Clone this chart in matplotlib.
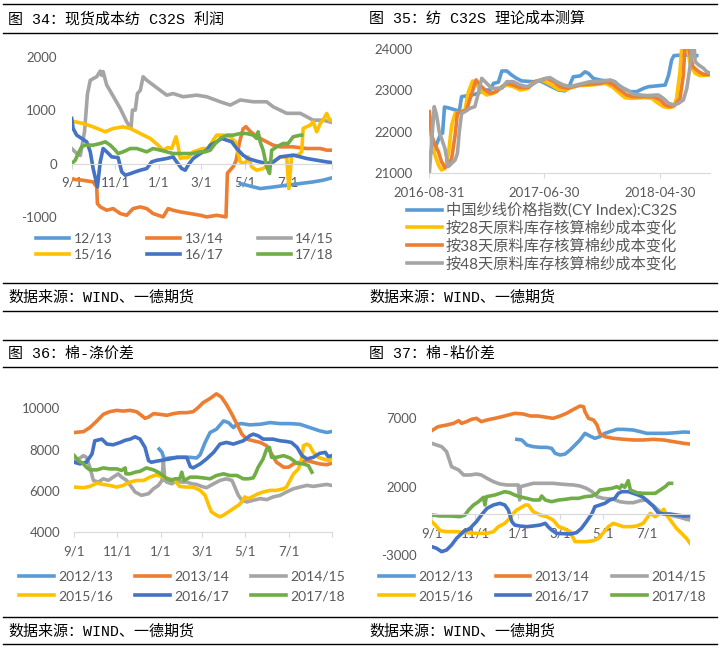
import matplotlib
matplotlib.use('Agg')
import matplotlib.pyplot as plt
from matplotlib.lines import Line2D
import pandas as pd

W, H = 720, 649

C_LBLUE = '#5B9BD5'
C_ORANGE = '#ED7D31'
C_GRAY = '#A5A5A5'
C_YELLOW = '#FFC000'
C_BLUE = '#4472C4'
C_GREEN = '#70AD47'
TXT = '#595959'
AXC = '#D9D9D9'

# ---------- season x axis (days after 9/1) ----------
month_ticks = [0, 61, 122, 181, 242, 303, 364]
month_labels = ['9/1', '11/1', '1/1', '3/1', '5/1', '7/1', '']

# ---------- chart 34: spot cost C32S profit ----------
profit_labels = ['12/13', '13/14', '14/15', '15/16', '16/17', '17/18']
profit_1213 = [(236, -375), (245, -406), (254, -437), (264, -469), (282, -440), (301, -406),
               (320, -375), (338, -344), (352, -312), (364, -269)]
profit_1314 = [(0, -294), (14, -310), (30, -344), (35, -437), (36, -750), (40, -812), (49, -875),
               (58, -844), (68, -937), (77, -969), (86, -844), (96, -812), (105, -844), (114, -937),
               (128, -1000), (135, -844), (142, -875), (152, -906), (166, -937), (180, -969),
               (189, -1000), (203, -969), (216, -1000), (218, -180), (226, -60), (230, 50),
               (235, 400), (240, 650), (244, 690), (250, 600), (257, 531), (264, 469), (273, 406),
               (282, 344), (292, 312), (310, 312), (329, 281), (348, 281), (357, 250), (364, 250)]
profit_1415 = [(0, 280), (7, 190), (12, 150), (18, 600), (22, 1300), (26, 1560), (35, 1625),
               (40, 1730), (42, 1650), (44, 1720), (49, 1470), (56, 1310), (68, 1030), (77, 780),
               (83, 656), (85, 1000), (89, 1000), (92, 1310), (96, 1370), (100, 1625), (105, 1560),
               (114, 1470), (133, 1280), (142, 1310), (156, 1250), (175, 1280), (189, 1250),
               (208, 1156), (222, 1094), (236, 1190), (254, 1156), (273, 1156), (282, 1063),
               (301, 940), (320, 940), (338, 812), (352, 812), (364, 770)]
profit_1516 = [(0, 794), (16, 750), (30, 687), (47, 594), (58, 656), (72, 687), (82, 656),
               (96, 562), (110, 469), (121, 344), (128, 250), (135, 300), (140, 280), (146, 500),
               (149, 330), (152, 94), (156, 110), (163, 110), (170, 219), (184, 281), (191, 281),
               (198, 437), (203, 531), (212, 531), (222, 500), (229, 406), (236, 31), (243, 0),
               (247, 125), (252, -62), (259, -125), (268, -94), (278, 0), (283, 30), (292, 125),
               (301, 125), (304, -469), (308, 150), (317, 160), (322, 219), (324, 656), (329, 690),
               (334, 719), (338, 781), (343, 594), (348, 750), (352, 812), (357, 937), (361, 812),
               (364, 812)]
profit_1617 = [(0, 844), (2, 656), (7, 531), (14, 469), (21, 406), (26, 219), (30, -94),
               (36, -437), (40, 31), (44, 281), (49, 220), (56, 125), (65, 110), (70, -156),
               (75, -219), (82, -190), (89, -156), (96, -125), (105, -94), (112, 31), (119, 60),
               (133, 94), (142, 125), (147, 30), (154, -94), (159, -125), (163, -30), (170, 94),
               (180, 187), (189, 250), (194, 344), (203, 406), (210, 469), (217, 437), (224, 406),
               (231, 281), (240, 156), (247, 94), (259, 44), (273, 0), (282, 30), (292, 125),
               (310, 156), (320, 125), (329, 94), (343, 62), (357, 30), (364, 19)]
profit_1718 = [(0, 0), (5, 62), (9, 187), (14, 312), (19, 344), (30, 344), (40, 375), (47, 406),
               (54, 344), (61, 250), (65, 187), (72, 219), (82, 281), (91, 281), (98, 250),
               (105, 219), (114, 281), (124, 250), (133, 219), (142, 187), (152, 187), (161, 187),
               (170, 187), (180, 219), (187, 219), (194, 250), (201, 375), (208, 469), (217, 531),
               (226, 531), (236, 562), (245, 562), (254, 531), (259, 469), (261, 594), (264, 400),
               (268, 250), (273, -62), (277, -187), (280, 250), (287, 312), (296, 375), (303, 375),
               (310, 500), (320, 531), (322, 531)]

# ---------- chart 35: C32S theoretical cost (days after 2016-08-31) ----------
cost_start = pd.Timestamp('2016-08-31')
cost_labels = ['中国纱线价格指数(CY Index):C32S', '按28天原料库存核算棉纱成本变化',
               '按38天原料库存核算棉纱成本变化', '按48天原料库存核算棉纱成本变化']
cy_index = [(4, 21500), (11, 21520), (19, 21700), (30, 21950), (35, 21970), (40, 22600),
            (54, 22570), (68, 22530), (79, 22500), (85, 22850), (112, 22890), (129, 22930),
            (142, 23010), (160, 23010), (169, 23170), (182, 23200), (191, 23470), (204, 23470),
            (217, 23370), (230, 23290), (243, 23230), (274, 23210), (292, 23230), (305, 23170),
            (322, 23090), (340, 23010), (357, 22990), (366, 23050), (379, 23330), (397, 23350),
            (410, 23450), (419, 23410), (432, 23290), (450, 23250), (485, 23210), (498, 23130),
            (511, 23050), (529, 22970), (546, 22970), (564, 23050), (577, 23090), (621, 23130),
            (630, 23370), (638, 23735), (644, 23840), (669, 23856), (687, 23850), (704, 23840)]
cost_28 = [(0, 22448), (6, 21764), (15, 21442), (24, 21201), (32, 21080), (41, 21120),
           (50, 21442), (59, 22166), (68, 22448), (81, 22470), (94, 22528), (103, 22971),
           (114, 23228), (125, 23132), (138, 22971), (151, 22891), (169, 22931), (186, 23052),
           (204, 23132), (221, 23092), (239, 23011), (256, 23036), (270, 23172), (292, 23253),
           (305, 23212), (322, 23132), (340, 23027), (357, 23011), (375, 23068), (392, 23116),
           (428, 23132), (463, 23172), (481, 23092), (498, 22955), (515, 22826), (533, 22810),
           (568, 22826), (585, 22810), (603, 22689), (616, 22609), (630, 22585), (643, 22609),
           (651, 22810), (660, 23454), (665, 24100), (678, 24100), (687, 23615), (700, 23414),
           (713, 23357), (739, 23370)]
cost_38 = [(0, 22488), (6, 21925), (15, 21684), (24, 21523), (32, 21281), (41, 21137),
           (50, 21201), (59, 21362), (68, 21925), (74, 22448), (85, 22488), (98, 22528),
           (112, 22931), (123, 23253), (133, 23132), (147, 23011), (160, 22931), (177, 22971),
           (191, 23092), (204, 23172), (221, 23132), (239, 23068), (261, 23068), (278, 23212),
           (296, 23253), (309, 23293), (327, 23212), (344, 23092), (362, 23052), (379, 23092),
           (397, 23132), (414, 23148), (450, 23172), (467, 23212), (485, 23132), (502, 23011),
           (520, 22891), (537, 22850), (590, 22850), (608, 22770), (621, 22649), (634, 22609),
           (647, 22649), (660, 22810), (669, 23373), (673, 24100), (682, 24100), (687, 23840),
           (694, 23574), (709, 23454), (722, 23389), (739, 23389)]
cost_48 = [(0, 21000), (13, 22609), (19, 22408), (26, 22006), (32, 21845), (41, 21603),
           (50, 21161), (59, 21241), (68, 21322), (74, 21480), (79, 22006), (85, 22448),
           (94, 22488), (107, 22569), (120, 22609), (129, 22931), (138, 23293), (151, 23172),
           (164, 23052), (191, 23052), (204, 23212), (221, 23212), (239, 23132), (256, 23092),
           (270, 23132), (283, 23212), (300, 23277), (318, 23309), (335, 23212), (353, 23132),
           (371, 23092), (388, 23132), (406, 23172), (423, 23212), (458, 23228), (476, 23253),
           (489, 23212), (502, 23092), (520, 23011), (537, 22907), (572, 22875), (603, 22891),
           (616, 22810), (630, 22689), (643, 22649), (656, 22689), (669, 22770), (678, 23052),
           (687, 23615), (692, 24100), (697, 24100), (700, 23695), (709, 23615), (722, 23534),
           (730, 23454), (739, 23420)]
cost_ticks = ['2016-08-31', '2017-06-30', '2018-04-30']

# ---------- chart 36: cotton - polyester spread ----------
season_labels = ['2012/13', '2013/14', '2014/15', '2015/16', '2016/17', '2017/18']
poly_1213 = [(120, 8023), (124, 7862), (127, 7540), (135, 7590), (149, 7620), (164, 7620),
             (173, 7588), (178, 7750), (185, 8345), (192, 8827), (201, 8988), (211, 9390),
             (218, 9310), (225, 9068), (230, 9229), (237, 9260), (248, 9200), (263, 9229),
             (277, 9310), (291, 9260), (305, 9260), (319, 9229), (333, 9068), (347, 8908),
             (357, 8830), (364, 8875)]
poly_1314 = [(0, 8827), (13, 8870), (22, 9068), (32, 9390), (41, 9712), (50, 9840), (60, 9905),
             (69, 9870), (79, 9905), (88, 9840), (93, 9712), (100, 9519), (105, 9580),
             (112, 9744), (121, 9712), (131, 9664), (140, 9744), (149, 9792), (159, 9792),
             (168, 9840), (175, 10034), (182, 10275), (192, 10484), (201, 10710), (208, 10550),
             (215, 10195), (223, 9712), (230, 9229), (237, 8747), (244, 8505), (253, 8425),
             (263, 8345), (272, 8184), (279, 7781), (286, 7379), (296, 7138), (303, 7138),
             (310, 7299), (319, 7379), (329, 7460), (338, 7379), (347, 7299), (357, 7260),
             (364, 7330)]
poly_1415 = [(0, 7460), (6, 7540), (13, 7701), (17, 7620), (22, 7138), (27, 6494), (34, 6414),
             (41, 6574), (48, 6494), (55, 6655), (62, 6816), (67, 6655), (74, 6494), (81, 6172),
             (86, 5931), (95, 5770), (105, 5850), (112, 6092), (119, 6253), (124, 6494),
             (126, 7460), (128, 6494), (131, 6414), (138, 6333), (145, 6494), (152, 6414),
             (159, 6414), (166, 6333), (173, 6300), (180, 6204), (187, 6140), (197, 6333),
             (206, 6494), (215, 6574), (223, 6494), (227, 6172), (232, 5770), (237, 5529),
             (244, 5448), (253, 5529), (263, 5609), (272, 5560), (281, 5690), (291, 5770),
             (300, 5931), (310, 6092), (319, 6172), (329, 6253), (338, 6204), (347, 6253),
             (357, 6300), (364, 6253)]
poly_1516 = [(0, 6172), (13, 6140), (22, 6204), (32, 6365), (41, 6300), (50, 6253), (60, 6172),
             (69, 6253), (79, 6414), (88, 6494), (98, 6494), (107, 6655), (116, 6768),
             (126, 6655), (135, 6574), (142, 6494), (149, 6204), (159, 6172), (168, 6172),
             (178, 6011), (185, 5770), (190, 5287), (194, 4965), (201, 4804), (206, 4724),
             (211, 4804), (218, 4965), (225, 5126), (232, 5287), (237, 5448), (241, 5690),
             (246, 5609), (253, 5722), (260, 5850), (267, 5931), (277, 6011), (286, 6011),
             (296, 6092), (300, 6172), (305, 6494), (310, 6816), (317, 7057), (322, 7620),
             (324, 8184), (329, 8264), (333, 8184), (338, 7862), (345, 7620), (352, 7540),
             (359, 7460), (364, 7540)]
poly_1617 = [(0, 7379), (8, 7300), (17, 7379), (25, 7781), (29, 8425), (39, 8505), (46, 8264),
             (55, 8230), (65, 8345), (72, 8450), (79, 8505), (86, 8618), (93, 8505), (100, 8103),
             (105, 7460), (109, 7379), (116, 7430), (126, 7490), (135, 7540), (145, 7620),
             (159, 7620), (164, 7170), (168, 7105), (178, 7299), (187, 7540), (197, 7862),
             (206, 8264), (215, 8345), (225, 8264), (232, 8345), (239, 8425), (248, 8667),
             (253, 8747), (260, 8667), (267, 8505), (281, 8505), (291, 8425), (300, 8390),
             (307, 8345), (315, 8103), (322, 7700), (329, 7540), (338, 7620), (347, 7813),
             (355, 7862), (359, 7650), (364, 7700)]
poly_1718 = [(0, 7701), (6, 7460), (13, 7299), (17, 7138), (22, 7009), (32, 7009), (41, 7105),
             (50, 7057), (60, 7057), (67, 6980), (72, 7105), (73, 6816), (79, 6816), (86, 6896),
             (93, 6940), (102, 7105), (112, 7009), (121, 6850), (131, 6574), (138, 6494),
             (142, 6574), (149, 6574), (152, 6896), (155, 6494), (164, 6655), (173, 6655),
             (182, 6620), (192, 6574), (201, 6735), (211, 6816), (220, 6735), (230, 6735),
             (239, 6574), (246, 6574), (253, 6620), (256, 6816), (260, 7138), (267, 7540),
             (272, 8023), (276, 8103), (279, 7620), (286, 7620), (296, 7701), (305, 7590),
             (315, 7331), (324, 7299), (331, 7218), (336, 6896)]

# ---------- chart 37: cotton - viscose spread ----------
visc_1213 = [(120, 5463), (127, 5415), (134, 5049), (143, 4927), (153, 4878), (162, 4878),
             (169, 4805), (174, 4439), (181, 4317), (188, 4390), (195, 4683), (202, 5049),
             (209, 5415), (216, 5902), (223, 5707), (230, 5537), (237, 5659), (244, 5902),
             (251, 6024), (261, 6195), (270, 6195), (284, 6146), (294, 6024), (303, 5902),
             (317, 5902), (331, 5902), (345, 5951), (355, 6000), (364, 5976)]
visc_1314 = [(0, 6098), (9, 6390), (21, 6510), (31, 6634), (38, 6829), (42, 6634), (49, 6756),
             (56, 6927), (63, 7000), (70, 6756), (78, 6880), (89, 7000), (99, 7122), (108, 7244),
             (117, 7366), (129, 7317), (139, 7171), (150, 7171), (162, 7073), (171, 7000),
             (181, 7171), (190, 7366), (200, 7659), (209, 7903), (214, 7850), (216, 7488),
             (221, 7000), (228, 6880), (233, 6512), (237, 5902), (244, 5659), (256, 5537),
             (270, 5470), (284, 5415), (298, 5415), (312, 5463), (327, 5415), (341, 5293),
             (355, 5171), (364, 5122)]
visc_1415 = [(0, 5171), (7, 5049), (14, 4927), (21, 4561), (28, 3463), (38, 3220), (45, 2854),
             (54, 2854), (63, 2927), (70, 2854), (78, 2610), (87, 2366), (96, 2195), (106, 2122),
             (122, 2122), (124, 1024), (125, 2000), (134, 2122), (143, 2244), (157, 2244),
             (171, 2244), (186, 2170), (200, 2122), (209, 2049), (218, 1878), (226, 1634),
             (233, 1268), (242, 1146), (256, 1073), (265, 902), (275, 829), (284, 829),
             (294, 976), (303, 1024), (308, 780), (315, 488), (322, 171), (331, 0), (341, -146),
             (350, -244), (359, -390), (364, -439)]
visc_1516 = [(0, -561), (5, -805), (12, -1220), (21, -1293), (35, -1293), (49, -1366),
             (63, -1415), (78, -1415), (87, -1293), (94, -927), (103, -683), (110, -317),
             (115, 49), (120, 293), (124, 415), (132, 659), (136, 659), (143, 171), (153, -73),
             (162, -195), (171, -439), (179, -927), (186, -1049), (195, -1293), (202, -2024),
             (218, -2024), (228, -1951), (235, -1780), (242, -1366), (249, -927), (256, -683),
             (263, -805), (270, -927), (280, -927), (289, -878), (298, -683), (308, 49),
             (315, -195), (322, 49), (327, 342), (331, -73), (338, -561), (345, -1049),
             (352, -1415), (359, -1780), (364, -2146)]
visc_1617 = [(0, -2390), (7, -2512), (14, -2756), (21, -2634), (28, -2268), (35, -1780),
             (45, -1293), (54, -1049), (63, -561), (70, -73), (78, 415), (87, 659), (96, 780),
             (103, 659), (108, 293), (113, -561), (117, -805), (124, -878), (134, -927),
             (143, -878), (153, -805), (160, -683), (164, -927), (169, -1171), (176, -1415),
             (195, -1463), (204, -1366), (211, -1049), (218, -561), (226, 49), (230, 537),
             (237, 659), (244, 780), (251, 1024), (258, 1146), (263, 1512), (268, 1634),
             (277, 1634), (284, 1512), (291, 1390), (298, 1220), (305, 902), (312, 585),
             (319, 98), (327, 0), (336, 0), (345, -73), (355, -146), (364, -146)]
visc_1718 = [(0, -73), (12, -146), (26, -146), (40, -195), (47, -73), (52, 293), (59, 659),
             (66, 902), (73, 1220), (75, 659), (77, 1268), (82, 1317), (89, 1390), (96, 1512),
             (103, 1634), (110, 1561), (117, 1390), (124, 1268), (134, 1146), (143, 1024),
             (152, 1024), (155, 1317), (160, 1024), (169, 902), (179, 1024), (188, 1073),
             (197, 1146), (207, 1146), (216, 1268), (226, 1317), (233, 1512), (237, 1756),
             (244, 1805), (254, 1878), (261, 2000), (265, 1878), (268, 2122), (272, 1951),
             (277, 2439), (280, 1756), (289, 1561), (298, 1512), (308, 1512), (315, 1512),
             (322, 1756), (329, 2000), (334, 2244), (338, 2244)]

season_colors = [C_LBLUE, C_ORANGE, C_GRAY, C_YELLOW, C_BLUE, C_GREEN]

plt.rcParams['font.family'] = ['Lato', 'Noto Sans CJK SC', 'DejaVu Sans']
TFONT = ['Liberation Mono', 'Noto Sans CJK SC']
LW = 2.6


def rect(x0, y0, x1, y1):
    return [x0 / W, 1 - y1 / H, (x1 - x0) / W, (y1 - y0) / H]


def style_axes(ax, base, ypad):
    for s in ['top', 'right', 'left']:
        ax.spines[s].set_visible(False)
    ax.spines['bottom'].set_position(('data', base))
    ax.spines['bottom'].set_color(AXC)
    ax.spines['bottom'].set_linewidth(0.8)
    ax.tick_params(axis='x', direction='out', length=3.6, width=0.8, color=AXC,
                   labelsize=9.5, labelcolor=TXT, pad=6)
    ax.tick_params(axis='y', length=0, labelsize=9.5, labelcolor=TXT, pad=ypad)
    ax.patch.set_visible(False)


def season_legend(ax, lines, labels, cx, cy, hl, cs, ls):
    order = [0, 3, 1, 4, 2, 5]
    ax.legend([lines[i] for i in order], [labels[i] for i in order], ncol=3,
              loc='center', bbox_to_anchor=(cx / W, 1 - cy / H), bbox_transform=fig.transFigure,
              frameon=False, fontsize=10, labelcolor=TXT, handlelength=hl, handletextpad=0.3,
              columnspacing=cs, labelspacing=ls, borderpad=0, borderaxespad=0)


def season_panel(box, series, ylim, yticks, base, ypad):
    ax = fig.add_axes(rect(*box))
    lines = []
    for s, c in zip(series, season_colors):
        d = [p[0] for p in s]
        v = [p[1] for p in s]
        ln, = ax.plot(d, v, color=c, lw=LW, solid_joinstyle='round')
        lines.append(ln)
    ax.set_xlim(0, 364)
    ax.set_ylim(*ylim)
    ax.set_xticks(month_ticks)
    ax.set_xticklabels(month_labels)
    ax.set_yticks(yticks)
    ax.set_yticklabels([str(t) for t in yticks])
    style_axes(ax, base, ypad)
    return ax, lines


fig = plt.figure(figsize=(7.2, 6.49), dpi=100)

# frame lines and captions
for y in [4, 33, 283, 311, 340, 367, 617, 644]:
    fig.add_artist(Line2D([3 / W, 717 / W], [1 - y / H] * 2, color='black', lw=1.0))

captions = [(8, 19, '图 34：现货成本纺 C32S 利润'), (369, 19, '图 35：纺 C32S 理论成本测算'),
            (8, 354, '图 36：棉-涤价差'), (369, 354, '图 37：棉-粘价差'),
            (8, 297, '数据来源：WIND、一德期货'), (369, 297, '数据来源：WIND、一德期货'),
            (8, 631, '数据来源：WIND、一德期货'), (369, 631, '数据来源：WIND、一德期货')]
for x, y, s in captions:
    fig.text(x / W, 1 - y / H, s, family=TFONT, fontsize=10.8, ha='left', va='center', color='black')

# chart 34
ax1, l1 = season_panel((71.7, 56.7, 331.7, 219.6),
                       [profit_1213, profit_1314, profit_1415, profit_1516, profit_1617, profit_1718],
                       (-1050, 2000), [-1000, 0, 1000, 2000], 0, 10.6)
season_legend(ax1, l1, profit_labels, 185, 246.5, 2.4, 2.5, 0.3)

# chart 36
ax3, l3 = season_panel((74.3, 385, 331.7, 531.7),
                       [poly_1213, poly_1314, poly_1415, poly_1516, poly_1617, poly_1718],
                       (4000, 11139), [4000, 6000, 8000, 10000], 4000, 10.2)
season_legend(ax3, l3, season_labels, 182, 586.5, 2.5, 1.6, 0.55)

# chart 37
ax4, l4 = season_panel((431.7, 399.2, 690, 555),
                       [visc_1213, visc_1314, visc_1415, visc_1516, visc_1617, visc_1718],
                       (-3000, 8400), [-3000, 2000, 7000], 0, 10.6)
season_legend(ax4, l4, season_labels, 542.5, 586.5, 2.5, 1.65, 0.55)

# chart 35
ax2 = fig.add_axes(rect(429.3, 49, 710, 173.3))
lines2 = []
for s, c in zip([cy_index, cost_28, cost_38, cost_48], [C_LBLUE, C_YELLOW, C_ORANGE, C_GRAY]):
    x = [cost_start + pd.Timedelta(days=p[0]) for p in s]
    v = [p[1] for p in s]
    ln, = ax2.plot(x, v, color=c, lw=LW, solid_joinstyle='round')
    lines2.append(ln)
ax2.set_xlim(cost_start, cost_start + pd.Timedelta(days=739))
ax2.set_ylim(21000, 24000)
ax2.set_xticks([pd.Timestamp(t) for t in cost_ticks])
ax2.set_xticklabels(cost_ticks)
ax2.set_yticks([21000, 22000, 23000, 24000])
ax2.set_yticklabels(['21000', '22000', '23000', '24000'])
style_axes(ax2, 21000, 12.3)
ax2.legend(lines2, cost_labels, loc='center left', bbox_to_anchor=(407 / W, 1 - 237 / H),
           bbox_transform=fig.transFigure, frameon=False, fontsize=11, labelcolor=TXT,
           handlelength=2.3, handletextpad=0.25, labelspacing=0.2, borderpad=0, borderaxespad=0)

fig.savefig('out.png', dpi=100)
